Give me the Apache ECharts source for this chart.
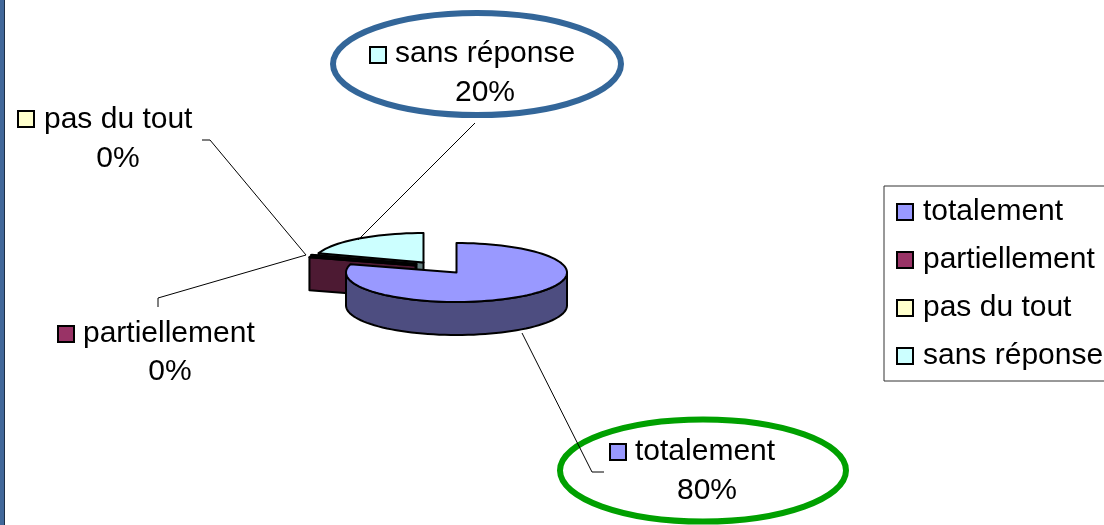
<!DOCTYPE html>
<html>
<head>
<meta charset="utf-8">
<script src="https://cdn.jsdelivr.net/npm/echarts@6/dist/echarts.min.js"></script>
<style>
  html, body { margin: 0; padding: 0; background: #fff; }
  #chart { width: 1104px; height: 525px; }
</style>
</head>
<body>
<div id="chart"></div>
<script>
const categories = ['totalement', 'partiellement', 'pas du tout', 'sans réponse'];
const values = [80, 0.4, 0.2, 20];
const topColors = ['#9999ff', '#993366', '#ffffcc', '#ccffff'];
const wallColors = ['#4d4d80', '#4d1a33', '#808066', '#668080'];

const FONT = '"Liberation Sans", Arial, sans-serif';
const pie = { cx: 456.5, cy: 272.5, rx: 110.5, ry: 29.5, depth: 33 };
// how far each slice is pulled out of the pie
const explode = [[0, 0], [-41, -7], [-40, -8.5], [-33, -10]];
// label placement: key box, text, percent line, leader line
const labelPos = [
  { key: [610, 444], text: [635, 452], pct: [707, 491], leader: [[522, 333], [592, 472], [604, 472]] },
  { key: [58, 326], text: [83, 334], pct: [170, 372], leader: [[306, 255], [158, 298], [158, 307]] },
  { key: [18, 111], text: [44, 120], pct: [118, 159], leader: [[306, 255], [210, 140], [202, 140]] },
  { key: [370, 47], text: [395, 54], pct: [485, 93], leader: [[358, 240], [475, 123]] }
];

const total = values.reduce((a, b) => a + b, 0);
const startAngles = values.map((v, i) => values.slice(0, i).reduce((a, b) => a + b, 0) / total * 360);

function ringPoint(ox, oy, deg, drop) {
  const a = deg * Math.PI / 180;
  return [ox + pie.rx * Math.sin(a), oy - pie.ry * Math.cos(a) + drop];
}

function arcPoints(ox, oy, from, to, drop) {
  const pts = [];
  const n = Math.max(2, Math.ceil((to - from) / 3));
  for (let k = 0; k <= n; k++) pts.push(ringPoint(ox, oy, from + (to - from) * k / n, drop));
  return pts;
}

function renderSlice(params, api) {
  const i = api.value(2);
  const sweep = api.value(0) / total * 360;
  const from = api.value(1);
  const to = from + sweep;
  const ox = pie.cx + explode[i][0];
  const oy = pie.cy + explode[i][1];
  const edge = { stroke: '#000', lineWidth: 2, lineJoin: 'round' };
  const children = [];

  // cut face on the side of the start angle, seen from the front for the small slices
  if (i > 0) {
    const outer = ringPoint(ox, oy, from, 0);
    children.push({
      type: 'polygon',
      shape: { points: [[ox, oy], outer, [outer[0], outer[1] + pie.depth], [ox, oy + pie.depth]] },
      style: { fill: wallColors[i], ...edge }
    });
  }
  // outer wall, only the front half of the ring shows
  const wallFrom = Math.max(from, 90);
  const wallTo = Math.min(to, 270);
  if (wallTo > wallFrom) {
    const upper = arcPoints(ox, oy, wallFrom, wallTo, 0);
    const lower = arcPoints(ox, oy, wallFrom, wallTo, pie.depth).reverse();
    children.push({
      type: 'polygon',
      shape: { points: upper.concat(lower) },
      style: { fill: wallColors[i], ...edge }
    });
  }
  // top face
  children.push({
    type: 'polygon',
    shape: { points: [[ox, oy]].concat(arcPoints(ox, oy, from, to, 0)) },
    style: { fill: topColors[i], ...edge }
  });

  // label with its key and leader line
  const pos = labelPos[i];
  children.push({
    type: 'polyline',
    shape: { points: pos.leader },
    style: { fill: null, stroke: '#000', lineWidth: 1 }
  });
  children.push({
    type: 'rect',
    shape: { x: pos.key[0], y: pos.key[1], width: 16, height: 16 },
    style: { fill: topColors[i], stroke: '#000', lineWidth: 2 }
  });
  children.push({
    type: 'text',
    x: pos.text[0], y: pos.text[1],
    style: { text: categories[i], font: '30px ' + FONT, fill: '#000', verticalAlign: 'middle' }
  });
  children.push({
    type: 'text',
    x: pos.pct[0], y: pos.pct[1],
    style: { text: Math.round(api.value(0) / total * 100) + '%', font: '30px ' + FONT, fill: '#000', align: 'center', verticalAlign: 'middle' }
  });
  return { type: 'group', children };
}

const chart = echarts.init(document.getElementById('chart'));

// back slices first so the big one sits in front
const drawOrder = [3, 2, 1, 0];
const series = drawOrder.map(i => ({
  name: categories[i],
  type: 'custom',
  coordinateSystem: 'none',
  silent: true,
  clip: false,
  renderItem: renderSlice,
  itemStyle: { color: topColors[i] },
  data: [[values[i], startAngles[i], i]]
}));

chart.setOption({
  animation: false,
  backgroundColor: '#fff',
  legend: {
    data: categories,
    orient: 'vertical',
    left: 884,
    top: 186,
    padding: [11, 12, 10, 12],
    itemGap: 18,
    itemWidth: 16,
    itemHeight: 16,
    icon: 'rect',
    selectedMode: false,
    borderColor: '#333',
    borderWidth: 1,
    itemStyle: { borderColor: '#000', borderWidth: 2 },
    textStyle: { fontFamily: FONT, fontSize: 30, color: '#000', padding: [2, 0, 0, 5] }
  },
  graphic: [
    // frame edge on the left
    { type: 'rect', left: 0, top: 0, shape: { width: 4, height: 525 }, style: { fill: '#41689a' } },
    { type: 'rect', left: 4, top: 0, shape: { width: 1, height: 525 }, style: { fill: '#1c2f47' } },
    // highlight ellipses round the two main labels
    { type: 'ellipse', shape: { cx: 477, cy: 64, rx: 144, ry: 51 }, style: { fill: null, stroke: '#336699', lineWidth: 6 } },
    { type: 'ellipse', shape: { cx: 703, cy: 470.5, rx: 143, ry: 51 }, style: { fill: null, stroke: '#00a000', lineWidth: 6 } }
  ],
  series
});
</script>
</body>
</html>
